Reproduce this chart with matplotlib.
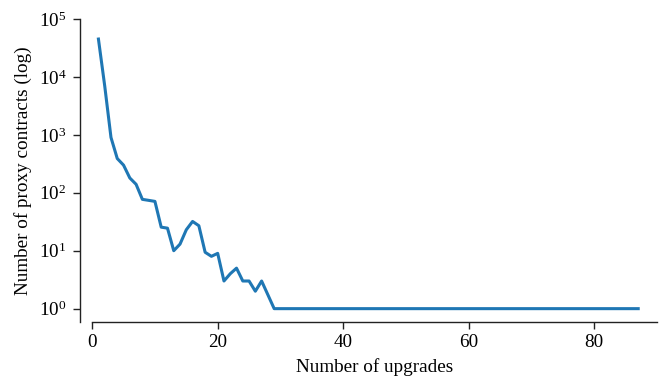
import matplotlib.pyplot as plt
from matplotlib.ticker import LogLocator, NullLocator

# number of upgrades -> number of proxy contracts
upgrades = [1, 2, 3, 4, 5, 6, 7, 8, 9, 10, 11, 12, 13, 14, 15, 16, 17, 18,
            19, 20, 21, 22, 23, 24, 25, 26, 27, 29, 87]
contracts = [45000, 7000, 900, 390, 300, 180, 140, 77, 74, 71, 25.5, 24.5,
             10, 13, 23, 32, 27, 9.4, 8, 9, 3, 4, 5, 3, 3, 2, 3, 1, 1]

plt.rcParams['font.family'] = ['Liberation Serif', 'DejaVu Serif']
plt.rcParams['mathtext.fontset'] = 'stix'
plt.rcParams['font.size'] = 13.75

fig = plt.figure(figsize=(6.63, 3.79), dpi=100)
ax = fig.add_axes([0.139, 0.150, 0.852, 0.800])

ax.plot(upgrades, contracts, color='#1f77b4', linewidth=2.2)

ax.set_yscale('log')
ax.set_ylim(10 ** -0.233, 1e5)
ax.set_xlim(0, 90)
ax.yaxis.set_major_locator(LogLocator(base=10, numticks=10))
ax.yaxis.set_minor_locator(NullLocator())
ax.set_xticks([0, 20, 40, 60, 80])

ax.set_xlabel("Number of upgrades", labelpad=5)
ax.set_ylabel("Number of proxy contracts (log)", labelpad=5)

for s in ['top', 'right']:
    ax.spines[s].set_visible(False)
ax.spines['left'].set_position(('outward', 8.6))
for s in ['left', 'bottom']:
    ax.spines[s].set_linewidth(1.0)
    ax.spines[s].set_color('#222222')
ax.tick_params(length=5, width=1.0, color='#222222')
ax.tick_params(axis='y', pad=5)

plt.savefig("out.png", dpi=100)
